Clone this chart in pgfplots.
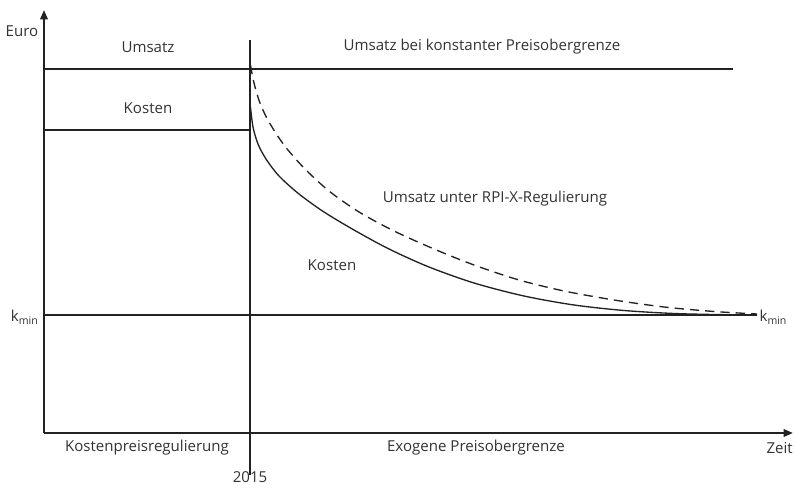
\documentclass[border=0pt]{standalone}
\usepackage{pgfplots}
\pgfplotsset{compat=1.18}
\usetikzlibrary{arrows.meta}
\usepackage{fontspec}
\setmainfont{Open Sans}
\definecolor{ink}{HTML}{222222}
\definecolor{txt}{HTML}{333333}
\begin{document}
\begin{tikzpicture}[lbl/.style={font=\fontsize{11.3}{13}\selectfont, text=txt}]
\begin{axis}[
  x=0.75pt, y=0.75pt,
  xmin=0, xmax=749, ymin=0, ymax=423,
  axis lines=left,
  axis line style={line width=1.6pt, color=ink, -{Triangle[length=7pt,width=5.5pt]}},
  xtick=\empty, ytick=\empty,
  clip=false,
]
\path (axis cs:-44,-55) rectangle (axis cs:751,433);
% horizontal lines
\addplot[ink, line width=1pt] coordinates {(0,364) (689,364)};
\addplot[ink, line width=1pt] coordinates {(0,303) (206,303)};
\addplot[ink, line width=1pt] coordinates {(0,118) (713,118)};
\addplot[ink, line width=1pt] coordinates {(206,393) (206,-42)};
% RPI-X revenue (dashed)
\addplot[ink, line width=1pt, dash pattern=on 7pt off 4.5pt, smooth] coordinates {
(206.5,368) (210,350) (216,330) (225,311) (240,288) (260,265) (285,242) (315,221) (350,202) (390,184) (430,168) (475,153) (520,142) (570,133) (620,126) (670,121.5) (713,119)};
% costs (solid)
\addplot[ink, line width=1pt, smooth] coordinates {
(206.5,326) (209,306) (214,289) (222,274) (235,257) (255,239) (280,221) (310,203) (345,184) (385,166) (430,150) (480,137) (530,128) (580,122.5) (630,119.5) (680,118.3) (713,118)};
\node[lbl] at (axis cs:-22,402) {Euro};
\node[lbl] at (axis cs:104,386) {Umsatz};
\node[lbl] at (axis cs:438,386) {Umsatz bei konstanter Preisobergrenze};
\node[lbl] at (axis cs:104,325) {Kosten};
\node[lbl] at (axis cs:451,234) {Umsatz unter RPI-X-Regulierung};
\node[lbl] at (axis cs:288,168) {Kosten};
\node[lbl, anchor=east, inner sep=1pt] at (axis cs:-4,116) {k\textsubscript{min}};
\node[lbl, anchor=west, inner sep=1pt] at (axis cs:714,116) {k\textsubscript{min}};
\node[lbl] at (axis cs:103,-15) {Kostenpreisregulierung};
\node[lbl] at (axis cs:432,-15) {Exogene Preisobergrenze};
\node[lbl, anchor=east, inner sep=0pt] at (axis cs:749,-15) {Zeit};
\node[lbl] at (axis cs:206,-44) {2015};
\end{axis}
\end{tikzpicture}
\end{document}
